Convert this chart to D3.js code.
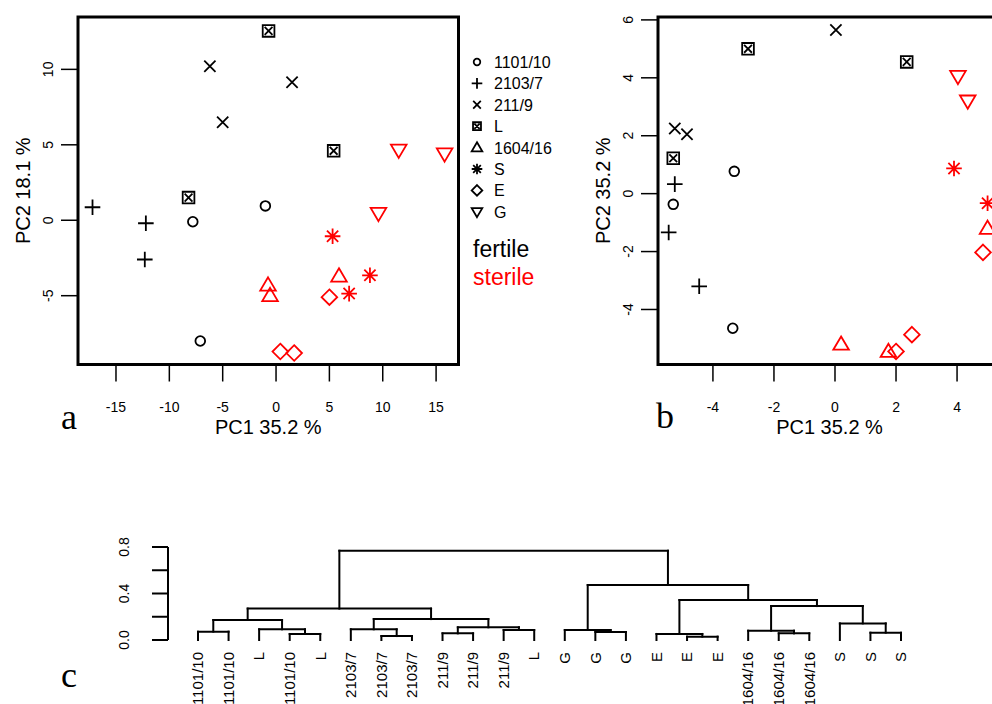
<!DOCTYPE html>
<html>
<head>
<meta charset="utf-8">
<script src="https://cdn.jsdelivr.net/npm/d3@7"></script>
<style>
  body { margin: 0; background: #fff; }
  text { font-family: "Liberation Sans", Arial, sans-serif; }
  .letter { font-family: "Liberation Serif", "Times New Roman", serif; }
</style>
</head>
<body>
<div id="chart"></div>
<script>
// groups in legend order, sterile ones drawn red
var groups = ["1101/10", "2103/7", "211/9", "L", "1604/16", "S", "E", "G"];
var sterile = ["1604/16", "S", "E", "G"];

// panel a: [group, PC1, PC2]
var pointsA = [
  ["1101/10", -7.8, -0.1], ["1101/10", -1.0, 0.95], ["1101/10", -7.1, -8.0],
  ["2103/7", -17.2, 0.86], ["2103/7", -12.2, -0.2], ["2103/7", -12.3, -2.6],
  ["211/9", -6.2, 10.2], ["211/9", 1.5, 9.15], ["211/9", -5.0, 6.5],
  ["L", -0.7, 12.55], ["L", 5.4, 4.6], ["L", -8.2, 1.5],
  ["1604/16", -0.75, -4.3], ["1604/16", -0.56, -5.0], ["1604/16", 5.9, -3.7],
  ["S", 5.3, -1.06], ["S", 8.8, -3.65], ["S", 6.85, -4.86],
  ["E", 5.0, -5.1], ["E", 0.4, -8.7], ["E", 1.7, -8.8],
  ["G", 11.5, 4.65], ["G", 15.8, 4.4], ["G", 9.6, 0.46]
];
// panel b: [group, PC1, PC2]
var pointsB = [
  ["1101/10", -3.3, 0.77], ["1101/10", -5.3, -0.37], ["1101/10", -3.35, -4.65],
  ["2103/7", -5.25, 0.33], ["2103/7", -5.45, -1.34], ["2103/7", -4.45, -3.2],
  ["211/9", 0.03, 5.65], ["211/9", -5.25, 2.25], ["211/9", -4.85, 2.05],
  ["L", -2.85, 5.0], ["L", 2.35, 4.55], ["L", -5.3, 1.22],
  ["1604/16", 0.2, -5.2], ["1604/16", 1.75, -5.45], ["1604/16", 5.0, -1.2],
  ["S", 3.9, 0.87], ["S", 5.0, -0.33],
  ["E", 2.0, -5.45], ["E", 2.52, -4.87], ["E", 4.85, -2.03],
  ["G", 4.03, 4.05], ["G", 4.35, 3.2]
];

var ticksAx = [-15, -10, -5, 0, 5, 10, 15];
var ticksAy = [-5, 0, 5, 10];
var ticksBx = [-4, -2, 0, 2, 4];
var ticksBy = [-4, -2, 0, 2, 4, 6];

// dendrogram (leaf order as drawn), merges like R hclust: negative = leaf, positive = earlier merge
var leafLabels = ["1101/10", "1101/10", "L", "1101/10", "L", "2103/7", "2103/7", "2103/7",
  "211/9", "211/9", "211/9", "L", "G", "G", "G", "E", "E", "E",
  "1604/16", "1604/16", "1604/16", "S", "S", "S"];
var merges = [
  [-1, -2, 0.072], [-4, -5, 0.052], [-3, 2, 0.092], [1, 3, 0.172],
  [-7, -8, 0.034], [-6, 5, 0.092], [-9, -10, 0.057], [-11, -12, 0.086],
  [7, 8, 0.109], [6, 9, 0.18], [4, 10, 0.27],
  [-14, -15, 0.069], [-13, 12, 0.086], [-17, -18, 0.029], [-16, 14, 0.052],
  [-20, -21, 0.057], [-19, 16, 0.08], [-23, -24, 0.063], [-22, 18, 0.143],
  [17, 19, 0.292], [15, 20, 0.344], [13, 21, 0.473], [11, 22, 0.768]
];
var heightTicks = [0, 0.2, 0.4, 0.6, 0.8];
var heightLabels = ["0.0", "", "0.4", "", "0.8"];

var W = 992, H = 704;
var svg = d3.select("#chart").append("svg").attr("width", W).attr("height", H);

function colorOf(g) { return sterile.indexOf(g) >= 0 ? "#ff0000" : "#000"; }

// R-ish plotting symbols, s = half size
function symbol(g, s) {
  var p = d3.path();
  var c = s * 0.72;
  if (g == "1101/10") { var r = s * 0.62; p.moveTo(r, 0); p.arc(0, 0, r, 0, 2 * Math.PI); }
  else if (g == "2103/7") { p.moveTo(-s, 0); p.lineTo(s, 0); p.moveTo(0, -s); p.lineTo(0, s); }
  else if (g == "211/9") { p.moveTo(-c, -c); p.lineTo(c, c); p.moveTo(-c, c); p.lineTo(c, -c); }
  else if (g == "L") {
    var h = s * 0.75, k = s * 0.5;
    p.rect(-h, -h, 2 * h, 2 * h);
    p.moveTo(-k, -k); p.lineTo(k, k); p.moveTo(-k, k); p.lineTo(k, -k);
  }
  else if (g == "1604/16") { p.moveTo(0, -s); p.lineTo(s, s * 0.7); p.lineTo(-s, s * 0.7); p.closePath(); }
  else if (g == "S") {
    p.moveTo(-s, 0); p.lineTo(s, 0); p.moveTo(0, -s); p.lineTo(0, s);
    p.moveTo(-c, -c); p.lineTo(c, c); p.moveTo(-c, c); p.lineTo(c, -c);
  }
  else if (g == "E") { p.moveTo(0, -s); p.lineTo(s, 0); p.lineTo(0, s); p.lineTo(-s, 0); p.closePath(); }
  else if (g == "G") { p.moveTo(0, s); p.lineTo(s, -s * 0.7); p.lineTo(-s, -s * 0.7); p.closePath(); }
  return p.toString();
}

function scatter(box, xdom, ydom, xt, yt, pts, ytitle, letter) {
  var x = d3.scaleLinear().domain(xdom).range([box.x0, box.x1]);
  var y = d3.scaleLinear().domain(ydom).range([box.y1, box.y0]);
  var g = svg.append("g");

  g.append("rect")
    .attr("x", box.x0).attr("y", box.y0)
    .attr("width", box.x1 - box.x0).attr("height", box.y1 - box.y0)
    .attr("fill", "none").attr("stroke", "#000").attr("stroke-width", 3);

  // x axis ticks
  g.selectAll(".xt").data(xt).enter().append("line")
    .attr("x1", d => x(d)).attr("x2", d => x(d))
    .attr("y1", box.y1).attr("y2", box.y1 + 17)
    .attr("stroke", "#000").attr("stroke-width", 1.5);
  g.selectAll(".xl").data(xt).enter().append("text")
    .attr("x", d => x(d)).attr("y", 412)
    .attr("text-anchor", "middle").attr("font-size", 14)
    .text(d => d);

  // y axis ticks
  g.selectAll(".yt").data(yt).enter().append("line")
    .attr("x1", box.x0 - 17).attr("x2", box.x0)
    .attr("y1", d => y(d)).attr("y2", d => y(d))
    .attr("stroke", "#000").attr("stroke-width", 1.5);
  g.selectAll(".yl").data(yt).enter().append("text")
    .attr("transform", d => "translate(" + (box.x0 - 25) + "," + y(d) + ") rotate(-90)")
    .attr("text-anchor", "middle").attr("font-size", 14)
    .text(d => d);

  g.append("text")
    .attr("x", (box.x0 + box.x1) / 2).attr("y", 434)
    .attr("text-anchor", "middle").attr("font-size", 20)
    .text("PC1 35.2 %");
  g.append("text")
    .attr("transform", "translate(" + (box.x0 - 48) + "," + ((box.y0 + box.y1) / 2) + ") rotate(-90)")
    .attr("text-anchor", "middle").attr("font-size", 20)
    .text(ytitle);

  g.append("text").attr("class", "letter")
    .attr("x", letter[0]).attr("y", letter[1])
    .attr("font-size", 36).text(letter[2]);

  g.selectAll(".pt").data(pts).enter().append("path")
    .attr("transform", d => "translate(" + x(d[1]) + "," + y(d[2]) + ")")
    .attr("d", d => symbol(d[0], 7.8))
    .attr("fill", "none")
    .attr("stroke", d => colorOf(d[0]))
    .attr("stroke-width", 1.8);
}

scatter({x0: 78, x1: 458.5, y0: 17, y1: 364.5}, [-18.56, 17.1], [-9.56, 13.47],
  ticksAx, ticksAy, pointsA, "PC2 18.1 %", [61, 429, "a"]);
scatter({x0: 658, x1: 1001, y0: 17, y1: 364.5}, [-5.8, 5.44], [-5.9, 6.1],
  ticksBx, ticksBy, pointsB, "PC2 35.2 %", [656, 428, "b"]);

// legend
var leg = svg.append("g");
leg.selectAll("path").data(groups).enter().append("path")
  .attr("transform", (d, i) => "translate(477," + (62 + i * 21.4) + ")")
  .attr("d", d => symbol(d, 5.3))
  .attr("fill", "none").attr("stroke", "#000").attr("stroke-width", 1.8);
leg.selectAll("text").data(groups).enter().append("text")
  .attr("x", 494).attr("y", (d, i) => 62 + i * 21.4 + 6)
  .attr("font-size", 16).text(d => d);
leg.append("text").attr("x", 473).attr("y", 257).attr("font-size", 23).text("fertile");
leg.append("text").attr("x", 473).attr("y", 285).attr("font-size", 23)
  .attr("fill", "#ff0000").text("sterile");

// dendrogram
var lx = d3.scaleLinear().domain([1, leafLabels.length]).range([198, 901]);
var hy = d3.scaleLinear().domain([0, 0.8]).range([640, 547]);
var dg = svg.append("g");

var nodes = [];
merges.forEach(function(m) {
  var kids = [m[0], m[1]].map(function(k) {
    return k < 0 ? {x: lx(-k), h: 0} : nodes[k - 1];
  });
  nodes.push({x: (kids[0].x + kids[1].x) / 2, h: m[2], kids: kids});
});

var segs = [];
nodes.forEach(function(n) {
  segs.push([n.kids[0].x, hy(n.kids[0].h), n.kids[0].x, hy(n.h)]);
  segs.push([n.kids[0].x, hy(n.h), n.kids[1].x, hy(n.h)]);
  segs.push([n.kids[1].x, hy(n.h), n.kids[1].x, hy(n.kids[1].h)]);
});
dg.selectAll("line.seg").data(segs).enter().append("line")
  .attr("x1", d => d[0]).attr("y1", d => d[1])
  .attr("x2", d => d[2]).attr("y2", d => d[3])
  .attr("stroke", "#000").attr("stroke-width", 2).attr("stroke-linecap", "square");

dg.selectAll("text.leaf").data(leafLabels).enter().append("text")
  .attr("transform", (d, i) => "translate(" + lx(i + 1) + ",652) rotate(-90)")
  .attr("dy", "0.35em").attr("text-anchor", "end").attr("font-size", 15)
  .text(d => d);

// height axis
dg.append("line").attr("x1", 168).attr("x2", 168).attr("y1", hy(0)).attr("y2", hy(0.8))
  .attr("stroke", "#000").attr("stroke-width", 2);
dg.selectAll("line.ht").data(heightTicks).enter().append("line")
  .attr("x1", 152).attr("x2", 168).attr("y1", d => hy(d)).attr("y2", d => hy(d))
  .attr("stroke", "#000").attr("stroke-width", 2);
dg.selectAll("text.hl").data(heightLabels).enter().append("text")
  .attr("transform", (d, i) => "translate(129," + hy(heightTicks[i]) + ") rotate(-90)")
  .attr("text-anchor", "middle").attr("font-size", 14)
  .text(d => d);

dg.append("text").attr("class", "letter").attr("x", 61).attr("y", 687)
  .attr("font-size", 36).text("c");
</script>
</body>
</html>
